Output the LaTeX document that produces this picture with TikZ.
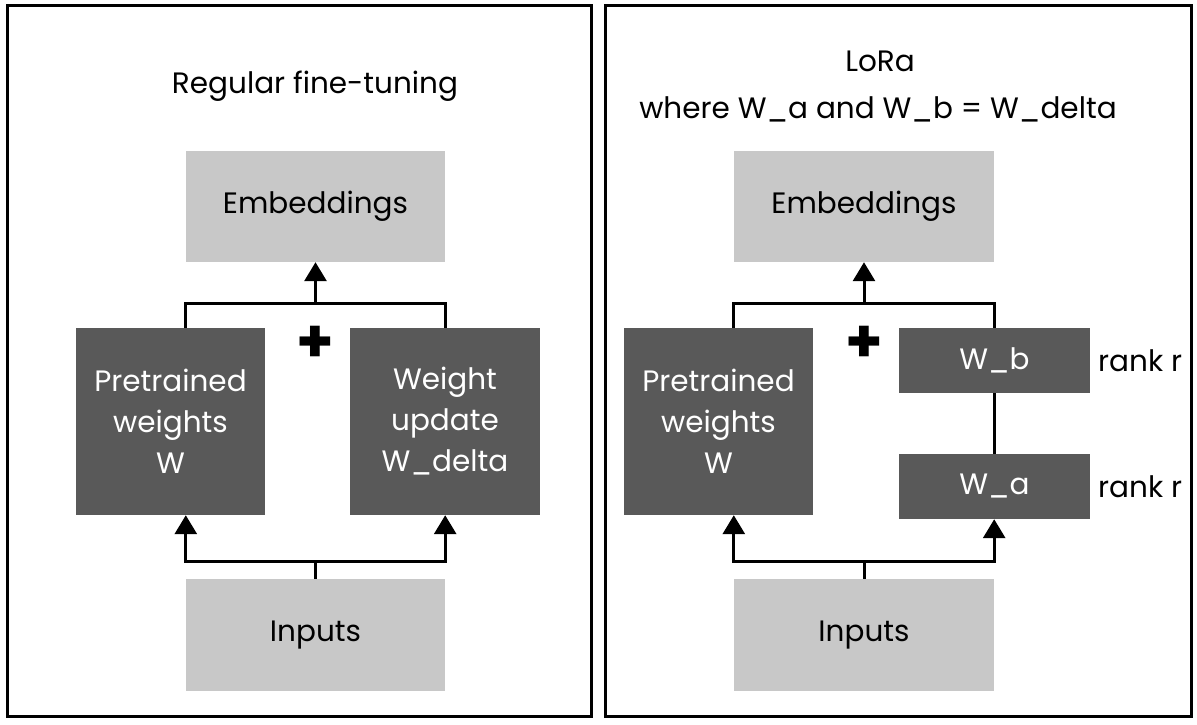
\documentclass[tikz,border=0pt]{standalone}
\usepackage{fontspec}
\setmainfont{Poppins}
\usetikzlibrary{arrows.meta}
\definecolor{lightbox}{HTML}{C8C8C8}
\definecolor{darkbox}{HTML}{595959}
\begin{document}
\begin{tikzpicture}[x=1pt,y=-1pt,
  txt/.style={font=\fontsize{29.5}{41}\selectfont, inner sep=0pt},
  light/.style={txt, fill=lightbox, draw=none, text=black, align=center},
  dark/.style={txt, fill=darkbox, draw=none, text=white, align=center},
  panel/.style={draw=black, line width=3pt, fill=none},
  conn/.style={line width=3pt, line join=miter},
  arr/.style={conn, -{Triangle[width=22pt,length=19pt]}},
  plus/.style={font=\fontsize{60}{60}\selectfont\bfseries, inner sep=0pt}]
\useasboundingbox (0,0) rectangle (1197,724);
% panels
\draw[panel] (7,5) rectangle (591.5,716.5);
\draw[panel] (605,5) rectangle (1191.5,716.5);

% ---- left panel ----
\node[txt] (title1) at (315,86) {Regular fine-tuning};
\node[light, minimum width=259pt, minimum height=111pt] (emb1) at (315.5,206.5) {Embeddings};
\node[dark, minimum width=189pt, minimum height=187pt] (pre1) at (170.5,421.5) {Pretrained\\weights\\W};
\node[dark, minimum width=190pt, minimum height=187pt] (wu1) at (445,421.5) {Weight\\update\\W\_delta};
\node[light, minimum width=259pt, minimum height=112pt] (inp1) at (315.5,635) {Inputs};
\node[plus] (plus1) at (315.5,344) {+};
\coordinate (j1) at (315.5,303);
\coordinate (k1) at (315.5,561);
\draw[conn] (pre1.north -| emb1.west) |- (j1) -| (wu1.north -| emb1.east);
\draw[arr] (j1) -- (emb1.south);
\draw[conn] (inp1.north) -- (k1);
\draw[arr] (k1) -| (pre1.south -| inp1.west);
\draw[arr] (k1) -| (wu1.south -| inp1.east);

% ---- right panel ----
\node[txt] (title2) at (880,61) {LoRa};
\node[txt] (title3) at (878,109) {where W\_a and W\_b = W\_delta};
\node[light, minimum width=260pt, minimum height=111pt] (emb2) at (864,206.5) {Embeddings};
\node[dark, minimum width=189pt, minimum height=187pt] (pre2) at (718.5,421.5) {Pretrained\\weights\\W};
\node[dark, minimum width=191pt, minimum height=65pt] (wb) at (994.5,360.5) {W\_b};
\node[dark, minimum width=191pt, minimum height=65pt] (wa) at (994.5,486.5) {W\_a};
\node[txt, anchor=west] (rb) at (1098,360.5) {rank r};
\node[txt, anchor=west] (ra) at (1098,486.5) {rank r};
\node[light, minimum width=260pt, minimum height=112pt] (inp2) at (864,635) {Inputs};
\node[plus] (plus2) at (864,344) {+};
\coordinate (j2) at (864,303);
\coordinate (k2) at (864,561);
\draw[conn] (pre2.north -| emb2.west) |- (j2) -| (wb.north -| emb2.east);
\draw[arr] (j2) -- (emb2.south);
\draw[conn] (wb.south -| emb2.east) -- (wa.north -| emb2.east);
\draw[conn] (inp2.north) -- (k2);
\draw[arr] (k2) -| (pre2.south -| inp2.west);
\draw[arr] (k2) -| (wa.south -| inp2.east);
\end{tikzpicture}
\end{document}
